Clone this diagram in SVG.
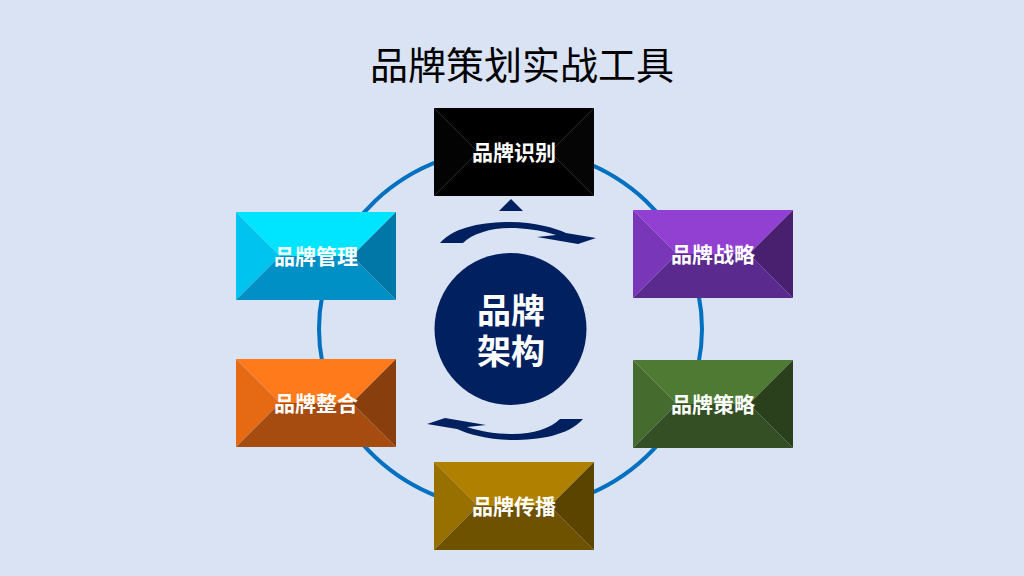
<svg xmlns="http://www.w3.org/2000/svg" width="1024" height="576" viewBox="0 0 1024 576">
<defs>
<style>
.lbl{font-family:"Noto Sans CJK SC","Noto Sans",sans-serif;font-size:21px;font-weight:bold;fill:#fff;text-anchor:middle}
.ttl{font-family:"Noto Sans CJK SC","Noto Sans",sans-serif;font-size:38px;fill:#000;text-anchor:middle}
.ctr{font-family:"Liberation Sans","Noto Sans CJK SC",sans-serif;font-size:34px;font-weight:bold;fill:#fff;text-anchor:middle}
.arw{fill:#002060}
</style>
<path id="ft" d="M0,0 H160 L116,44 H44 Z"/>
<path id="fl" d="M0,0 L44,44 L0,88 Z"/>
<path id="fb" d="M0,88 L44,44 H116 L160,88 Z"/>
<path id="fr" d="M160,0 V88 L116,44 Z"/>
</defs>
<rect width="1024" height="576" fill="#DAE3F3"/>
<text class="ttl" x="522" y="79">品牌策划实战工具</text>
<g id="connectors">
<ellipse cx="510.5" cy="329" rx="191.5" ry="181" fill="none" stroke="#0070C0" stroke-width="4"/>
<polygon class="arw" points="499,211 511,199 523,211"/>
<path id="arrowUp" class="arw" d="M440,243 C455,226 485,222 510,222 C535,222 555,228 566,233 L596,238 L578,244 L537,237 L556,235 C540,230 525,228 510,228 C490,228 472,234 463,243 Z"/>
<path class="arw" transform="rotate(180 511.5 331)" d="M440,243 C455,226 485,222 510,222 C535,222 555,228 566,233 L596,238 L578,244 L537,237 L556,235 C540,230 525,228 510,228 C490,228 472,234 463,243 Z"/>
</g>
<g id="center">
<circle cx="510.5" cy="329" r="76" fill="#002060"/>
<text class="ctr"><tspan x="511" y="323">品牌</tspan><tspan x="511" y="364">架构</tspan></text>
</g>
<g id="node-shibie" transform="translate(434,108)">
<use href="#ft" fill="#000"/><use href="#fl" fill="#030303"/><use href="#fb" fill="#000"/><use href="#fr" fill="#050505"/>
<path d="M0,0 L44,44 L0,88 M160,0 L116,44 L160,88 M44,44 H116" fill="none" stroke="#2a2a2a" stroke-width="0.8"/>
<text class="lbl" x="80" y="52">品牌识别</text>
</g>
<g id="node-guanli" transform="translate(236,212)">
<use href="#ft" fill="#00E5FF"/><use href="#fl" fill="#00C4F0"/><use href="#fb" fill="#0090C6"/><use href="#fr" fill="#0077A6"/>
<text class="lbl" x="80" y="52">品牌管理</text>
</g>
<g id="node-zhanlue" transform="translate(633,210)">
<use href="#ft" fill="#9140D2"/><use href="#fl" fill="#7A36B8"/><use href="#fb" fill="#5B2A8F"/><use href="#fr" fill="#48206F"/>
<text class="lbl" x="80" y="52">品牌战略</text>
</g>
<g id="node-celue" transform="translate(633,360)">
<use href="#ft" fill="#4F7A34"/><use href="#fl" fill="#456B2E"/><use href="#fb" fill="#334F23"/><use href="#fr" fill="#2A401C"/>
<text class="lbl" x="80" y="52">品牌策略</text>
</g>
<g id="node-zhenghe" transform="translate(236,359)">
<use href="#ft" fill="#FF7A1A"/><use href="#fl" fill="#E66A14"/><use href="#fb" fill="#A74C10"/><use href="#fr" fill="#893E0D"/>
<text class="lbl" x="80" y="52">品牌整合</text>
</g>
<g id="node-chuanbo" transform="translate(434,462)">
<use href="#ft" fill="#B08000"/><use href="#fl" fill="#977000"/><use href="#fb" fill="#6E5200"/><use href="#fr" fill="#5A4400"/>
<text class="lbl" x="80" y="52">品牌传播</text>
</g>
</svg>
